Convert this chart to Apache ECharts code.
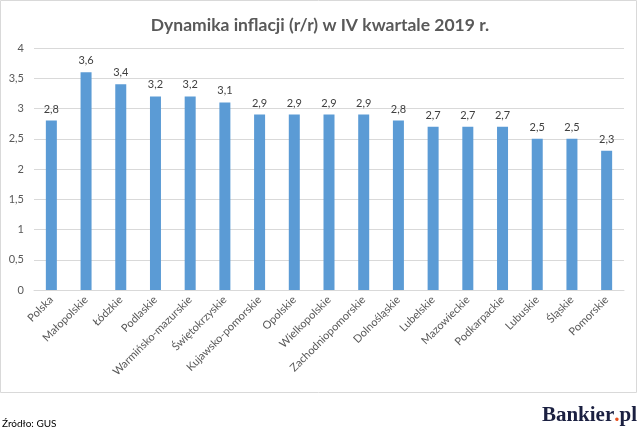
<!DOCTYPE html>
<html>
<head>
<meta charset="utf-8">
<title>Dynamika inflacji</title>
<script src="https://cdn.jsdelivr.net/npm/echarts@6/dist/echarts.min.js"></script>
<style>
  html, body { margin: 0; padding: 0; background: #fff; }
  #chart { width: 640px; height: 436px; }
</style>
</head>
<body>
<div id="chart"></div>
<script>
// dane
var regiony = ['Polska', 'Małopolskie', 'Łódzkie', 'Podlaskie', 'Warmińsko-mazurskie',
  'Świętokrzyskie', 'Kujawsko-pomorskie', 'Opolskie', 'Wielkopolskie', 'Zachodniopomorskie',
  'Dolnośląskie', 'Lubelskie', 'Mazowieckie', 'Podkarpackie', 'Lubuskie', 'Śląskie', 'Pomorskie'];
var inflacja = [2.8, 3.6, 3.4, 3.2, 3.2, 3.1, 2.9, 2.9, 2.9, 2.9, 2.8, 2.7, 2.7, 2.7, 2.5, 2.5, 2.3];
var osY = { min: 0, max: 4, interval: 0.5 };

var fmt = function (v) { return String(v).replace('.', ','); };

var chart = echarts.init(document.getElementById('chart'));
chart.setOption({
  animation: false,
  textStyle: { fontFamily: 'Lato, sans-serif' },
  title: {
    text: 'Dynamika inflacji (r/r) w IV kwartale 2019 r.',
    left: 'center',
    top: 11,
    textStyle: { fontSize: 17.5, fontWeight: 'bold', color: '#595959', fontFamily: 'Lato, sans-serif' }
  },
  grid: { left: 34, right: 16, top: 48, bottom: 146, containLabel: false },
  xAxis: {
    type: 'category',
    data: regiony,
    axisTick: { show: false },
    axisLine: { lineStyle: { color: '#d9d9d9' } },
    axisLabel: { rotate: 45, interval: 0, color: '#595959', fontSize: 11, margin: 8 }
  },
  yAxis: {
    type: 'value',
    min: osY.min,
    max: osY.max,
    interval: osY.interval,
    axisLine: { show: false },
    axisTick: { show: false },
    splitLine: { lineStyle: { color: '#d9d9d9' } },
    axisLabel: { color: '#595959', fontSize: 11, margin: 10, formatter: fmt }
  },
  series: [{
    type: 'bar',
    data: inflacja,
    barWidth: 11,
    itemStyle: { color: '#5b9bd5' },
    label: {
      show: true,
      position: 'top',
      distance: 6,
      color: '#404040',
      fontSize: 11,
      formatter: function (p) { return fmt(p.value); }
    }
  }],
  graphic: [
    {
      type: 'rect',
      shape: { x: 0.5, y: 0.5, width: 636, height: 392 },
      style: { fill: null, stroke: '#d9d9d9', lineWidth: 1 },
      silent: true
    },
    {
      type: 'text',
      left: 2, top: 419,
      style: { text: 'Źródło: GUS', fill: '#000', fontSize: 10, fontFamily: 'Lato, sans-serif' }
    },
    {
      type: 'text',
      right: 3, top: 405,
      style: {
        text: '{a|Bankier}{b|.}{a|pl}',
        rich: {
          a: { fill: '#1b2041', fontSize: 21, fontWeight: 'bold', fontFamily: '"Liberation Serif", serif' },
          b: { fill: '#e8501e', fontSize: 21, fontWeight: 'bold', fontFamily: '"Liberation Serif", serif' }
        }
      }
    }
  ]
});
</script>
</body>
</html>
